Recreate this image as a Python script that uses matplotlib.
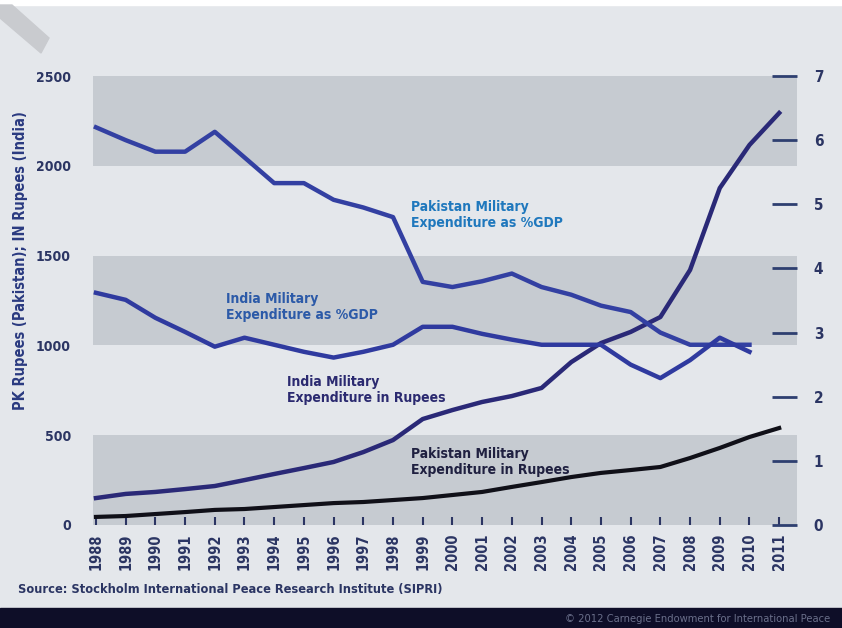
import numpy as np
import matplotlib
matplotlib.use("Agg")
import matplotlib.pyplot as plt
from matplotlib.patches import Polygon, Rectangle

plt.rcParams['font.family'] = ['DejaVu Sans']
plt.rcParams['font.stretch'] = 'condensed'

# datos
anios = list(range(1988, 2012))
pk_rupias = [45, 50, 61, 72, 84, 89, 100, 111, 122, 128, 139, 150,
             167, 184, 212, 239, 267, 290, 306, 323, 373, 429, 490, 540]
in_rupias = [150, 173, 184, 200, 217, 250, 284, 317, 351, 406, 473, 590,
             640, 685, 718, 763, 907, 1013, 1075, 1158, 1420, 1876, 2116, 2294]
anios_pib = list(range(1988, 2011))
pk_pib = [6.2, 6.0, 5.82, 5.82, 6.13, 5.73, 5.33, 5.33, 5.07, 4.95, 4.8, 3.79,
          3.71, 3.8, 3.92, 3.71, 3.59, 3.42, 3.32, 3.0, 2.81, 2.81, 2.81]
in_pib = [3.62, 3.51, 3.23, 3.01, 2.78, 2.92, 2.81, 2.70, 2.61, 2.7, 2.81, 3.09,
          3.09, 2.98, 2.89, 2.81, 2.81, 2.81, 2.5, 2.29, 2.57, 2.92, 2.7]

ticks_izq = [0, 500, 1000, 1500, 2000, 2500]
ticks_der = [0, 1, 2, 3, 4, 5, 6, 7]

fondo = '#e4e7eb'
banda = '#c6cbd1'
azul_texto = '#2b3563'

W, H = 842, 628
fig = plt.figure(figsize=(8.42, 6.28), dpi=100, facecolor=fondo)
ax = fig.add_axes([93 / W, 1 - 525 / H, 704 / W, 449 / H])
ax.set_facecolor(fondo)
ax.set_xlim(1987.9, 2011.6)
ax.set_ylim(0, 2500)

# bandas grises
for y0 in [0, 1000, 2000]:
    ax.axhspan(y0, y0 + 500, color=banda, zorder=0, lw=0)

for s in ax.spines.values():
    s.set_visible(False)

ax2 = ax.twinx()
ax2.set_ylim(0, 7)
for s in ax2.spines.values():
    s.set_visible(False)

ax.plot(anios, pk_rupias, color='#101018', lw=3.0, zorder=3)
ax.plot(anios, in_rupias, color='#2a2977', lw=3.2, zorder=3)
ax2.plot(anios_pib, pk_pib, color='#3340a2', lw=3.2, zorder=3)
ax2.plot(anios_pib, in_pib, color='#2f3a9f', lw=3.2, zorder=3)

ax.set_xticks(anios)
ax.set_xticklabels([str(a) for a in anios], rotation=90, fontsize=10.5,
                   fontweight='bold', color=azul_texto)
ax.tick_params(axis='x', direction='in', length=6, width=1.5, color=azul_texto, pad=6)
ax.set_yticks(ticks_izq)
ax.set_yticklabels([str(t) for t in ticks_izq], fontsize=10, fontweight='bold',
                   color=azul_texto)
ax.tick_params(axis='y', length=0, pad=16)
ax.set_ylabel('PK Rupees (Pakistan); IN Rupees (India)', fontsize=10.5,
              fontweight='bold', color='#2a3a80')
ax.yaxis.set_label_coords(-0.093, 0.588)

ax2.set_yticks(ticks_der)
ax2.set_yticklabels([str(t) for t in ticks_der], fontsize=11, fontweight='bold',
                    color=azul_texto)
ax2.tick_params(axis='y', direction='in', length=18, width=2, color='#2e3f70', pad=12)
# las marcas de 2 y 7 salen mas claras en el original
ticks_lineas = ax2.yaxis.get_major_ticks()
ticks_lineas[2].tick2line.set_color('#a3acb8')
ticks_lineas[7].tick2line.set_color('#4f7fae')

ax.text(1998.62, 1810, 'Pakistan Military\nExpenditure as %GDP', fontsize=10,
        fontweight='bold', color='#1f78bd', va='top', ha='left', linespacing=1.2, zorder=4)
ax.text(1992.38, 1297, 'India Military\nExpenditure as %GDP', fontsize=10,
        fontweight='bold', color='#2c5aa8', va='top', ha='left', linespacing=1.2, zorder=4)
ax.text(1994.43, 835, 'India Military\nExpenditure in Rupees', fontsize=10,
        fontweight='bold', color='#2b2a70', va='top', ha='left', linespacing=1.2, zorder=4)
ax.text(1998.62, 434, 'Pakistan Military\nExpenditure in Rupees', fontsize=10,
        fontweight='bold', color='#1f2040', va='top', ha='left', linespacing=1.2, zorder=4)

fig.text(18 / W, 1 - 590 / H, 'Source: Stockholm International Peace Research Institute (SIPRI)',
         fontsize=9.2, fontweight='bold', color=azul_texto, va='center', ha='left')

# franja inferior oscura, franja blanca superior y marca gris en la esquina
fig.patches.append(Rectangle((0, 0), 1, 20 / H, transform=fig.transFigure,
                             color='#0e0e28', zorder=0))
fig.patches.append(Rectangle((0, 1 - 5 / H), 1, 5 / H, transform=fig.transFigure,
                             color='white', zorder=0))
esquina = [(0, 5), (12, 5), (49, 38), (41, 53), (0, 18)]
fig.patches.append(Polygon([(x / W, 1 - y / H) for x, y in esquina],
                           closed=True, transform=fig.transFigure, color='#c9cbcf', zorder=1))
fig.text(830 / W, 1 - 619 / H, '\u00a9 2012 Carnegie Endowment for International Peace',
         fontsize=8, color='#6a6f8a', ha='right', va='center')

fig.savefig('out.png', dpi=100, facecolor=fondo)
